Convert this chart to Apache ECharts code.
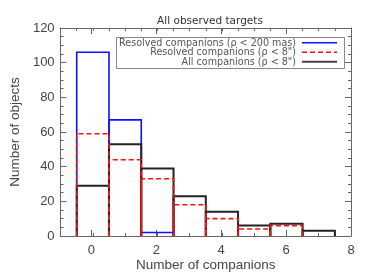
<!DOCTYPE html>
<html><head><meta charset="utf-8">
<script src="https://cdn.jsdelivr.net/npm/echarts@6/dist/echarts.min.js"></script>
<style>html,body{margin:0;padding:0;background:#fff}#c{width:390px;height:278px}</style>
</head><body><div id="c"></div>
<script>
const binCenters = [0, 1, 2, 3, 4, 5, 6, 7];
const resolved200mas = [106, 67, 2];
const resolved8arcsec = [59, 44, 33, 18, 10, 4, 6];
const allCompanions = [29, 53, 39, 23, 14, 6, 7, 3];
const xTickValues = [0, 2, 4, 6, 8];
const yTickValues = [0, 20, 40, 60, 80, 100, 120];
const legendLabels = ['Resolved companions (\u03c1 < 200 mas)', 'Resolved companions (\u03c1 < 8")', 'All companions (\u03c1 < 8")'];
const titleText = 'All observed targets';
const xName = 'Number of companions';
const yName = 'Number of objects';

const FONT = 'Liberation Sans';
const AX = '#666';
const TXT = '#444';

function histSeries(name, values, color, width, dash, z) {
  return {
    type: 'custom', name: name, xAxisIndex: 0, yAxisIndex: 0, z: z,
    data: values.map((v, i) => [binCenters[i], v]),
    encode: { x: 0, y: 1 },
    clip: false,
    renderItem: function (params, api) {
      const x = api.value(0), y = api.value(1);
      const a = api.coord([x - 0.5, 0]), b = api.coord([x - 0.5, y]);
      const c = api.coord([x + 0.5, y]), d = api.coord([x + 0.5, 0]);
      return { type: 'polyline', shape: { points: [a, b, c, d] },
        style: { fill: null, stroke: color, lineWidth: width, lineDash: dash } };
    }
  };
}

const L = 59, R = 39, T = 28, B = 42, W = 390 - L - R;
const unit = W / 9;

const chart = echarts.init(document.getElementById('c'), null, { renderer: 'canvas' });
const minorX = { min: -1, max: 8, interval: 0.5, axisLine: { show: true, onZero: false, lineStyle: { color: AX, width: 1 } },
  axisTick: { show: true, inside: true, length: 3, lineStyle: { color: AX } }, axisLabel: { show: false }, splitLine: { show: false } };
const majorX = { min: 0, max: 8, interval: 2, axisLine: { show: false, onZero: false },
  axisTick: { show: true, inside: true, length: 6, lineStyle: { color: AX } }, splitLine: { show: false } };
const yCommon = { type: 'value', min: 0, max: 120, interval: 20,
  axisLine: { show: true, onZero: false, lineStyle: { color: AX, width: 1 } },
  axisTick: { show: true, inside: true, length: 6, lineStyle: { color: AX } },
  minorTick: { show: true, splitNumber: 4, length: 3, lineStyle: { color: AX } },
  splitLine: { show: false } };

chart.setOption({
  animation: false,
  backgroundColor: '#fff',
  title: { text: titleText, left: 205, top: 11, textAlign: 'center',
    textStyle: { fontFamily: 'DejaVu Sans', fontSize: 10.5, fontWeight: 'normal', color: '#333' } },
  grid: [
    { left: L, right: R, top: T, bottom: B },
    { left: L + unit, right: R, top: T, bottom: B }
  ],
  xAxis: [
    Object.assign({ type: 'value', gridIndex: 0, position: 'bottom',
      name: xName, nameLocation: 'middle', nameGap: 22,
      nameTextStyle: { fontFamily: FONT, fontSize: 13.5, color: TXT } }, minorX),
    Object.assign({ type: 'value', gridIndex: 0, position: 'top' }, minorX),
    Object.assign({ type: 'value', gridIndex: 1, position: 'bottom',
      axisLabel: { show: true, margin: 8, fontFamily: FONT, fontSize: 13, color: TXT,
        formatter: v => (xTickValues.indexOf(v) >= 0 ? String(v) : '') } }, majorX),
    Object.assign({ type: 'value', gridIndex: 1, position: 'top', axisLabel: { show: false } }, majorX)
  ],
  yAxis: [
    Object.assign({ gridIndex: 0, position: 'left',
      name: yName, nameLocation: 'middle', nameGap: 33, nameRotate: 90,
      nameTextStyle: { fontFamily: FONT, fontSize: 13.5, color: TXT },
      axisLabel: { show: true, margin: 6, fontFamily: FONT, fontSize: 13, color: TXT,
        formatter: v => (yTickValues.indexOf(v) >= 0 ? String(v) : '') } }, yCommon),
    Object.assign({ gridIndex: 0, position: 'right', axisLabel: { show: false } }, yCommon),
    { type: 'value', gridIndex: 1, min: 0, max: 120, show: false }
  ],
  series: [
    histSeries('Resolved companions (rho < 200 mas)', resolved200mas, '#1010ff', 1.6, null, 2),
    histSeries('All companions (rho < 8")', allCompanions, '#222', 2, null, 3),
    histSeries('Resolved companions (rho < 8")', resolved8arcsec, '#ff1010', 1.6, [5, 3], 4)
  ],
  graphic: [
    { type: 'rect', shape: { x: 116.5, y: 37.5, width: 228, height: 31 }, style: { fill: '#fff', stroke: '#888', lineWidth: 1 }, z: 10 },
    { type: 'text', x: 296, y: 43, style: { text: legendLabels[0], align: 'right', verticalAlign: 'middle', font: '9.6px "DejaVu Sans"', fill: '#555' }, z: 11 },
    { type: 'text', x: 296, y: 52.5, style: { text: legendLabels[1], align: 'right', verticalAlign: 'middle', font: '9.6px "DejaVu Sans"', fill: '#555' }, z: 11 },
    { type: 'text', x: 296, y: 62, style: { text: legendLabels[2], align: 'right', verticalAlign: 'middle', font: '9.6px "DejaVu Sans"', fill: '#555' }, z: 11 },
    { type: 'line', shape: { x1: 302, y1: 42.7, x2: 337, y2: 42.7 }, style: { stroke: '#1010ff', lineWidth: 1.6 }, z: 11 },
    { type: 'line', shape: { x1: 302, y1: 52.3, x2: 337, y2: 52.3 }, style: { stroke: '#ff1010', lineWidth: 1.6, lineDash: [5, 3] }, z: 11 },
    { type: 'line', shape: { x1: 302, y1: 61.7, x2: 337, y2: 61.7 }, style: { stroke: '#444', lineWidth: 2 }, z: 11 }
  ]
});
</script></body></html>
